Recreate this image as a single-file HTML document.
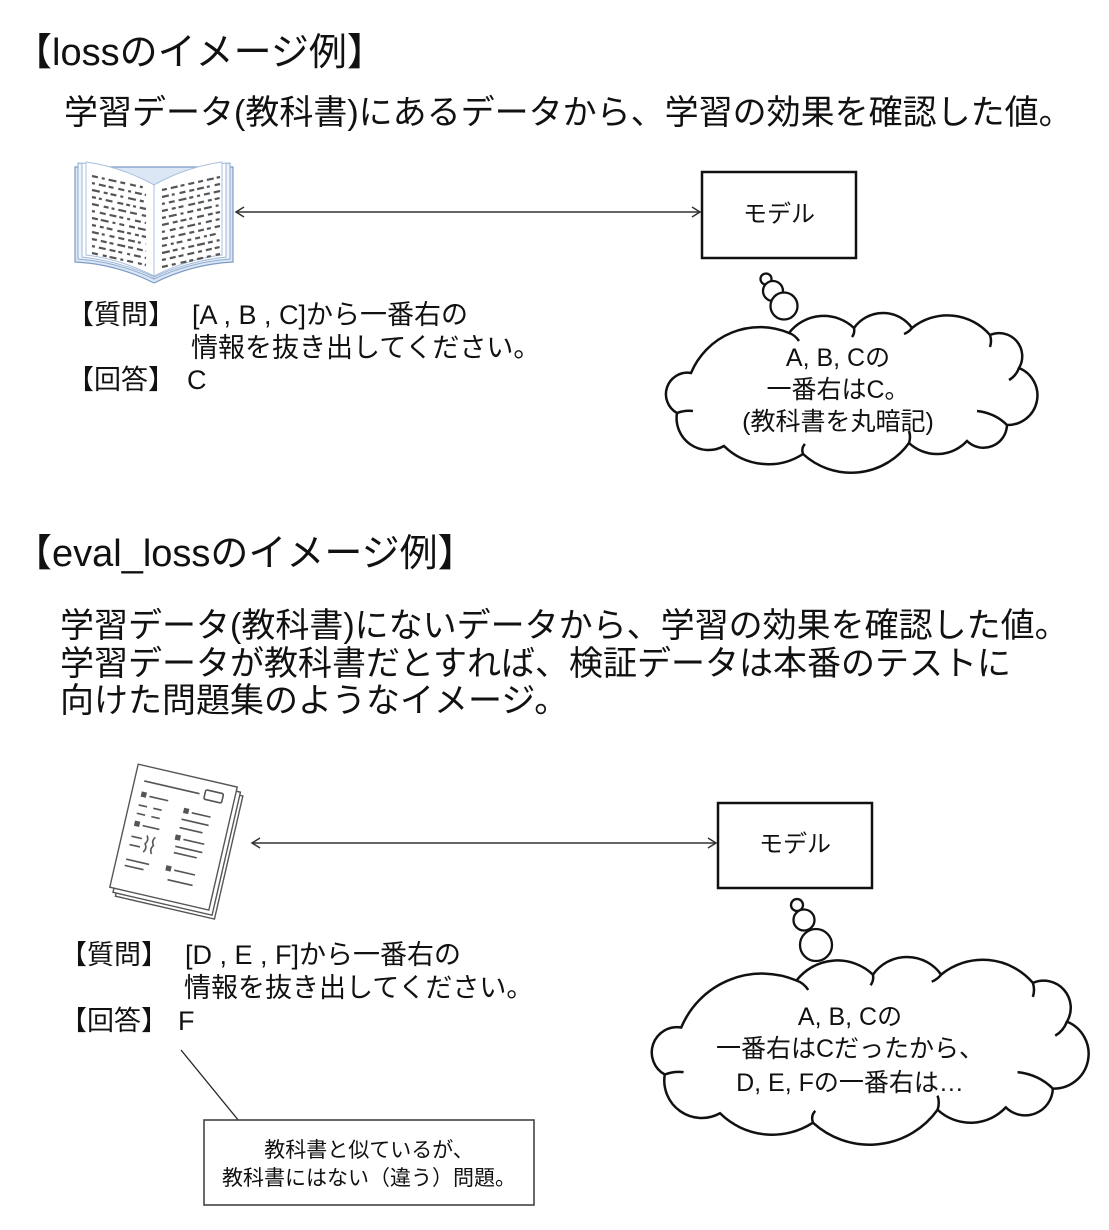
<!DOCTYPE html>
<html><head><meta charset="utf-8">
<style>
html,body{margin:0;padding:0;background:#fff;}
body{width:1109px;height:1230px;position:relative;overflow:hidden;}
.t{position:absolute;white-space:nowrap;font-family:"Liberation Sans","Noto Sans CJK JP",sans-serif;color:#111;}
.c{text-align:center;}
svg{position:absolute;left:0;top:0;}
</style></head><body>
<svg width="1109" height="1230" viewBox="0 0 1109 1230">
  <!-- Book icon -->
  <g>
    <path d="M75,167 L75,262 Q116,264 154,283 Q192,264 233,262 L233,167 Z" fill="#dbe7f5" stroke="#7d9bc6" stroke-width="1.2"/>
    <path d="M78,163 Q120,166 154,185 L154,279 Q118,262 78,259 Z" fill="#eef4fb" stroke="#8eaad0" stroke-width="1"/>
    <path d="M82,163 Q121,167 154,185 L154,277 Q119,261 82,257 Z" fill="#fff" stroke="#9fb7d8" stroke-width="1"/>
    <path d="M86,162 Q122,167 154,185 L154,276 Q120,259 86,255 Z" fill="#fff" stroke="#aac0dd" stroke-width="1"/>
    <path d="M230,163 Q188,166 154,185 L154,279 Q190,262 230,259 Z" fill="#eef4fb" stroke="#8eaad0" stroke-width="1"/>
    <path d="M226,163 Q187,167 154,185 L154,277 Q189,261 226,257 Z" fill="#fff" stroke="#9fb7d8" stroke-width="1"/>
    <path d="M222,162 Q186,167 154,185 L154,276 Q188,259 222,255 Z" fill="#fff" stroke="#aac0dd" stroke-width="1"/>
    <g stroke="#555" stroke-width="2.2" fill="none">
      <path d="M92,176 L146,188" stroke-dasharray="6 4 3 4 8 4 5 5"/>
      <path d="M92,183 L146,195" stroke-dasharray="3 4 7 3 5 5 6 4"/>
      <path d="M92,190 L146,202" stroke-dasharray="8 4 4 3 6 4 3 5"/>
      <path d="M92,197 L146,209" stroke-dasharray="4 3 3 4 7 5 6 3"/>
      <path d="M92,204 L146,216" stroke-dasharray="7 5 5 3 3 4 8 4"/>
      <path d="M92,211 L146,223" stroke-dasharray="3 5 6 4 7 3 4 4"/>
      <path d="M92,218 L146,230" stroke-dasharray="6 3 8 4 3 4 5 5"/>
      <path d="M92,225 L146,237" stroke-dasharray="4 4 4 3 6 5 7 3"/>
      <path d="M92,232 L146,244" stroke-dasharray="7 3 3 5 5 4 6 4"/>
      <path d="M92,239 L146,251" stroke-dasharray="5 4 6 3 4 4 8 3"/>
      <path d="M92,246 L146,258" stroke-dasharray="3 4 7 4 6 3 4 5"/>
      <path d="M92,253 L146,265" stroke-dasharray="6 5 4 3 7 4 3 4"/>
      <path d="M162,190 L220,177" stroke-dasharray="5 4 7 3 4 4 6 4"/>
      <path d="M162,197 L220,184" stroke-dasharray="7 3 3 5 6 4 5 3"/>
      <path d="M162,204 L220,191" stroke-dasharray="3 4 6 4 8 3 4 4"/>
      <path d="M162,211 L220,198" stroke-dasharray="6 4 4 3 5 5 7 3"/>
      <path d="M162,218 L220,205" stroke-dasharray="4 3 8 4 3 4 6 4"/>
      <path d="M162,225 L220,212" stroke-dasharray="7 4 5 3 6 3 3 5"/>
      <path d="M162,232 L220,219" stroke-dasharray="3 5 6 4 4 4 8 3"/>
      <path d="M162,239 L220,226" stroke-dasharray="6 3 4 4 7 4 5 4"/>
      <path d="M162,246 L220,233" stroke-dasharray="5 4 3 3 6 5 4 4"/>
      <path d="M162,253 L220,240" stroke-dasharray="8 3 5 4 3 4 6 3"/>
      <path d="M162,260 L220,247" stroke-dasharray="4 4 6 3 5 4 7 4"/>
      <path d="M162,267 L220,254" stroke-dasharray="6 4 4 5 6 3 4 4"/>
    </g>
  </g>

  <!-- Paper icon -->
  <g transform="translate(173,837) rotate(13) scale(1.07)" stroke="#555" stroke-width="1.3" fill="#fff">
    <rect x="-40" y="-52" width="95" height="118"/>
    <rect x="-43" y="-55" width="95" height="118"/>
    <rect x="-47" y="-59" width="95" height="118"/>
    <g fill="none" stroke-width="1.5">
      <path d="M-38,-45 H15"/>
      <rect x="20" y="-50" width="17" height="9" rx="1.5"/>
      <path d="M-30,-32 h18 M-38,-22 h8 M-24,-22 h8 M-38,-14 h8 M-24,-14 h8 M12,-26 h18 M4,-18 h26 M4,-10 h22 M-30,-4 h16 M-38,8 h10 M-38,16 h10 M-24,4 q3,4 0,8 q3,4 0,8 M-16,4 q-3,4 0,8 q-3,4 0,8 M-38,30 h22 M-38,36 h18 M10,0 h20 M4,8 h26 M4,14 h22 M8,30 h20 M4,40 h24"/>
    </g>
    <g fill="#555" stroke="none">
      <rect x="-38" y="-35" width="5" height="5"/>
      <rect x="4" y="-29" width="5" height="5"/>
      <rect x="-38" y="-7" width="5" height="5"/>
      <rect x="2" y="-3" width="5" height="5"/>
      <rect x="0" y="27" width="5" height="5"/>
    </g>
  </g>

  <!-- Arrows -->
  <g stroke="#333" stroke-width="1.5" fill="none">
    <path d="M236,212 H700"/>
    <path d="M244,207 L236,212 L244,217"/>
    <path d="M692,207 L700,212 L692,217"/>
    <path d="M252,843 H716"/>
    <path d="M260,838 L252,843 L260,848"/>
    <path d="M708,838 L716,843 L708,848"/>
  </g>

  <!-- Model boxes -->
  <rect x="702" y="172" width="154" height="86" fill="#fff" stroke="#111" stroke-width="2.5"/>
  <rect x="718" y="803" width="154" height="85" fill="#fff" stroke="#111" stroke-width="2.5"/>

  <!-- Clouds -->
  <defs>
    <path id="cl" d="M122,20 A43.9,43.9 0 0 1 187,15 A35.5,35.5 0 0 1 245,15 A56,56 0 0 1 323,22 A23.1,23.1 0 0 1 352,55 A29.6,29.6 0 0 1 340,112 A23.5,23.5 0 0 1 300,128 A41,41 0 0 1 242,130 A71.2,71.2 0 0 1 136,141 A63.3,63.3 0 0 1 57,133 A31.9,31.9 0 0 1 10,100 A21.5,21.5 0 0 1 24,60 A74.6,74.6 0 0 1 122,20 Z"/>
    <path id="cs" d="M122,20 q6,2 10,8 M187,15 q1,5 -2,9 M245,15 q-3,4 -8,6 M323,22 q2,6 0,12 M352,55 q-3,8 -10,12 M340,112 q-12,-12 -30,-14 M242,130 q2,-6 0,-12 M136,141 q-2,-6 2,-10 M10,100 q8,-3 16,-2"/>
  </defs>
  <g transform="translate(667,313)">
    <use href="#cl" fill="#fff" stroke="#111" stroke-width="2.5" vector-effect="non-scaling-stroke"/>
    <use href="#cs" fill="none" stroke="#111" stroke-width="2.5" vector-effect="non-scaling-stroke"/>
  </g>
  <g transform="translate(653,957) scale(1.176,1.175)">
    <path d="M122,20 A43.9,43.9 0 0 1 187,15 A35.5,35.5 0 0 1 245,15 A56,56 0 0 1 323,22 A23.1,23.1 0 0 1 352,55 A29.6,29.6 0 0 1 340,112 A23.5,23.5 0 0 1 300,128 A41,41 0 0 1 242,130 A71.2,71.2 0 0 1 136,141 A63.3,63.3 0 0 1 57,133 A31.9,31.9 0 0 1 10,100 A21.5,21.5 0 0 1 24,60 A74.6,74.6 0 0 1 122,20 Z" fill="#fff" stroke="#111" stroke-width="2.5" vector-effect="non-scaling-stroke"/>
    <path d="M122,20 q6,2 10,8 M187,15 q1,5 -2,9 M245,15 q-3,4 -8,6 M323,22 q2,6 0,12 M352,55 q-3,8 -10,12 M340,112 q-12,-12 -30,-14 M242,130 q2,-6 0,-12 M136,141 q-2,-6 2,-10 M10,100 q8,-3 16,-2" fill="none" stroke="#111" stroke-width="2.5" vector-effect="non-scaling-stroke"/>
  </g>

  <!-- thought bubbles -->
  <g fill="#fff" stroke="#111" stroke-width="2.3">
    <circle cx="766" cy="279" r="5.5"/>
    <circle cx="773" cy="291" r="10"/>
    <circle cx="784" cy="306" r="13.5"/>
    <circle cx="797" cy="905" r="6"/>
    <circle cx="804" cy="920" r="10.5"/>
    <circle cx="816" cy="945" r="16"/>
  </g>

  <!-- callout -->
  <path d="M181,1050 L239,1121" stroke="#222" stroke-width="1.3" fill="none"/>
  <rect x="204" y="1120" width="330" height="85" fill="#fff" stroke="#444" stroke-width="1.6"/>
</svg>

<div class="t" style="left:14px;top:34px;font-size:38px;line-height:38px;">【lossのイメージ例】</div>
<div class="t" style="left:64px;top:96px;font-size:34px;line-height:34px;">学習データ(教科書)にあるデータから、学習の効果を確認した値。</div>

<div class="t" style="left:67px;top:302px;font-size:27px;line-height:27px;">【質問】</div>
<div class="t" style="left:192px;top:302px;font-size:27px;line-height:27px;">[A , B , C]から一番右の</div>
<div class="t" style="left:191px;top:335px;font-size:27px;line-height:27px;">情報を抜き出してください。</div>
<div class="t" style="left:67px;top:367px;font-size:27px;line-height:27px;">【回答】</div>
<div class="t" style="left:187px;top:367px;font-size:27px;line-height:27px;">C</div>

<div class="t c" style="left:702px;top:203px;width:154px;font-size:24px;line-height:24px;">モデル</div>

<div class="t c" style="left:738px;top:346px;width:200px;font-size:25px;line-height:25px;">A, B, Cの</div>
<div class="t c" style="left:738px;top:378px;width:200px;font-size:25px;line-height:25px;">一番右はC。</div>
<div class="t c" style="left:718px;top:410px;width:240px;font-size:25px;line-height:25px;">(教科書を丸暗記)</div>

<div class="t" style="left:14px;top:535px;font-size:38px;line-height:38px;">【eval_lossのイメージ例】</div>
<div class="t" style="left:60px;top:609px;font-size:34px;line-height:34px;">学習データ(教科書)にないデータから、学習の効果を確認した値。</div>
<div class="t" style="left:60px;top:647px;font-size:34px;line-height:34px;">学習データが教科書だとすれば、検証データは本番のテストに</div>
<div class="t" style="left:60px;top:684px;font-size:34px;line-height:34px;">向けた問題集のようなイメージ。</div>

<div class="t c" style="left:718px;top:833px;width:154px;font-size:24px;line-height:24px;">モデル</div>

<div class="t" style="left:60px;top:942px;font-size:27px;line-height:27px;">【質問】</div>
<div class="t" style="left:185px;top:942px;font-size:27px;line-height:27px;">[D , E , F]から一番右の</div>
<div class="t" style="left:184px;top:975px;font-size:27px;line-height:27px;">情報を抜き出してください。</div>
<div class="t" style="left:60px;top:1008px;font-size:27px;line-height:27px;">【回答】</div>
<div class="t" style="left:178px;top:1008px;font-size:27px;line-height:27px;">F</div>

<div class="t c" style="left:700px;top:1005px;width:300px;font-size:25px;line-height:25px;">A, B, Cの</div>
<div class="t c" style="left:700px;top:1037px;width:300px;font-size:25px;line-height:25px;">一番右はCだったから、</div>
<div class="t c" style="left:700px;top:1071px;width:300px;font-size:25px;line-height:25px;">D, E, Fの一番右は…</div>

<div class="t c" style="left:204px;top:1140px;width:330px;font-size:21px;line-height:21px;">教科書と似ているが、</div>
<div class="t c" style="left:204px;top:1168px;width:330px;font-size:21px;line-height:21px;">教科書にはない（違う）問題。</div>
</body></html>
